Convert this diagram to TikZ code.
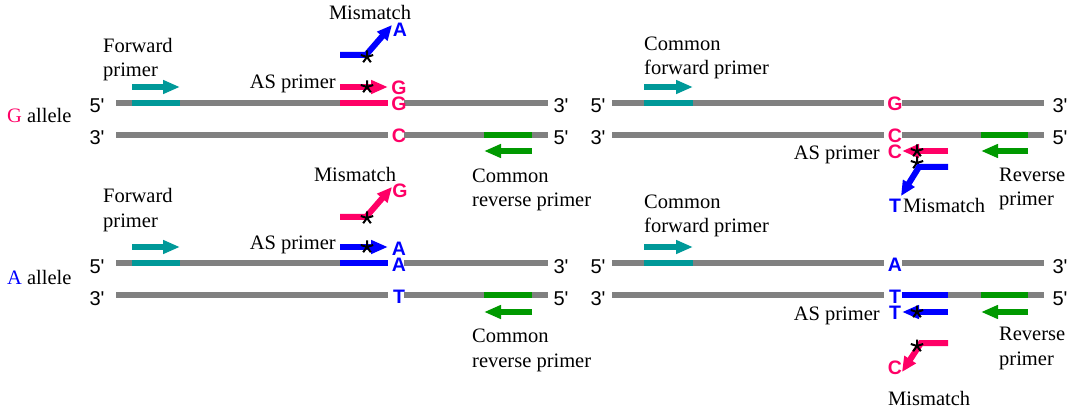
\documentclass[tikz,border=0pt]{standalone}
\usepackage{fontspec}
\setmainfont{Liberation Serif}
\setsansfont{Liberation Sans}
\usetikzlibrary{arrows.meta}
\definecolor{pinkc}{RGB}{255,0,102}
\definecolor{tealc}{RGB}{0,153,153}
\definecolor{greenc}{RGB}{0,153,0}
\definecolor{bluec}{RGB}{0,0,255}
\definecolor{grayc}{RGB}{128,128,128}
\newcommand{\fp}{5\textquotesingle}
\newcommand{\tp}{3\textquotesingle}
\tikzset{
  strand/.style={draw=grayc, line width=5.5pt},
  bar/.style={line width=6pt},
  parrow/.style={line width=6pt, -{Triangle[length=17pt,width=13pt]}},
  mmarrow/.style={line width=6pt, line join=miter, -{Triangle[length=15pt,width=13pt]}},
  lbl/.style={inner sep=0pt, font=\fontsize{20.5}{24.5}\selectfont, align=left},
  endlbl/.style={inner sep=0pt, font=\sffamily\fontsize{20}{24}\selectfont, anchor=base},
  nuc/.style={inner sep=0pt, font=\sffamily\bfseries\fontsize{19.5}{22}\selectfont, anchor=base},
  astpic/.pic={\draw[black, line width=2pt, line cap=butt]
     (0,0)--(270:6.5) (0,0)--(342:6.5) (0,0)--(54:6.5) (0,0)--(126:6.5) (0,0)--(198:6.5);}
}
\begin{document}
\begin{tikzpicture}[x=1pt,y=-1pt]
\useasboundingbox (0,0) rectangle (1072,409);

% ================= LEFT PANEL, G allele =================
\draw[strand] (116,103) -- (388,103) (404,103) -- (548,103);
\draw[strand] (116,135) -- (388,135) (404,135) -- (548,135);
\draw[bar, tealc] (132,103) -- (180,103);
\draw[bar, pinkc] (340,103) -- (388,103);
\draw[bar, greenc] (484,135) -- (532,135);
\draw[parrow, tealc] (132,87) -- (180,87);
\draw[parrow, pinkc] (340,87) -- (388,87);
\draw[parrow, greenc] (532,151) -- (484,151);
\draw[mmarrow, bluec] (340,55) -- (366,55) -- (392,25);
\pic at (367,57) {astpic};
\pic at (367,87) {astpic};

\node[lbl, anchor=base west] (galle) at (7,123) {{\color{pinkc}G} allele};
\node[lbl, anchor=base west] (fwdA) at (103,77) {Forward\\primer};
\node[lbl, anchor=base] (mmA) at (370,20) {Mismatch};
\node[lbl, anchor=base east] (asA) at (336,89) {AS primer};
\node[lbl, anchor=base west] (revA) at (472,207) {Common\\reverse primer};
\node[nuc, bluec] (nA1) at (400,37) {A};
\node[nuc, pinkc] (nA2) at (399,95) {G};
\node[nuc, pinkc] (nA3) at (399,111) {G};
\node[nuc, pinkc] (nA4) at (399,143) {C};
\node[endlbl] (eA1) at (97,113) {\fp};
\node[endlbl] (eA2) at (97,145) {\tp};
\node[endlbl] (eA3) at (561,113) {\tp};
\node[endlbl] (eA4) at (561,145) {\fp};

% ================= LEFT PANEL, A allele =================
\draw[strand] (116,263) -- (388,263) (404,263) -- (548,263);
\draw[strand] (116,295) -- (388,295) (404,295) -- (548,295);
\draw[bar, tealc] (132,263) -- (180,263);
\draw[bar, bluec] (340,263) -- (388,263);
\draw[bar, greenc] (484,295) -- (532,295);
\draw[parrow, tealc] (132,247) -- (180,247);
\draw[parrow, bluec] (340,247) -- (388,247);
\draw[parrow, greenc] (532,312) -- (484,312);
\draw[mmarrow, pinkc] (340,217) -- (366,217) -- (392,187);
\pic at (367,218) {astpic};
\pic at (367,247) {astpic};

\node[lbl, anchor=base west] (aalle) at (7,284) {{\color{bluec}A} allele};
\node[lbl, anchor=base west] (fwdB) at (103,227) {Forward\\primer};
\node[lbl, anchor=base] (mmB) at (355,182) {Mismatch};
\node[lbl, anchor=base east] (asB) at (336,250) {AS primer};
\node[lbl, anchor=base west] (revB) at (472,367) {Common\\reverse primer};
\node[nuc, pinkc] (nB1) at (400,198) {G};
\node[nuc, bluec] (nB2) at (399,255) {A};
\node[nuc, bluec] (nB3) at (399,271) {A};
\node[nuc, bluec] (nB4) at (399,303) {T};
\node[endlbl] (eB1) at (97,273) {\fp};
\node[endlbl] (eB2) at (97,305) {\tp};
\node[endlbl] (eB3) at (561,273) {\tp};
\node[endlbl] (eB4) at (561,305) {\fp};

% ================= RIGHT PANEL, G allele =================
\draw[strand] (612,103) -- (884,103) (902,103) -- (1044,103);
\draw[strand] (612,135) -- (884,135) (902,135) -- (1044,135);
\draw[bar, tealc] (644,103) -- (693,103);
\draw[bar, greenc] (981,135) -- (1028,135);
\draw[parrow, tealc] (644,87) -- (693,87);
\draw[parrow, pinkc] (948,151) -- (902,151);
\draw[parrow, greenc] (1028,151) -- (981,151);
\pic at (917,163) {astpic};
\draw[mmarrow, bluec] (948,167) -- (919,167) -- (901,196);
\pic at (917,151) {astpic};

\node[lbl, anchor=base west] (fwdC) at (644,75) {Common\\forward primer};
\node[lbl, anchor=base east] (asC) at (880,160) {AS primer};
\node[lbl, anchor=base west] (mmC) at (903,213) {Mismatch};
\node[lbl, anchor=base west] (revC) at (999,206) {Reverse\\primer};
\node[nuc, pinkc] (nC1) at (895,111) {G};
\node[nuc, pinkc] (nC2) at (895,143) {C};
\node[nuc, pinkc] (nC3) at (895,159) {C};
\node[nuc, bluec] (nC4) at (895,213) {T};
\node[endlbl] (eC1) at (598,113) {\fp};
\node[endlbl] (eC2) at (598,145) {\tp};
\node[endlbl] (eC3) at (1060,113) {\tp};
\node[endlbl] (eC4) at (1060,145) {\fp};

% ================= RIGHT PANEL, A allele =================
\draw[strand] (612,263) -- (884,263) (902,263) -- (1044,263);
\draw[strand] (612,295) -- (884,295) (902,295) -- (1044,295);
\draw[bar, tealc] (644,263) -- (693,263);
\draw[bar, bluec] (902,295) -- (948,295);
\draw[bar, greenc] (981,295) -- (1028,295);
\draw[parrow, tealc] (644,247) -- (693,247);
\draw[parrow, bluec] (948,312) -- (902,312);
\draw[parrow, greenc] (1028,312) -- (981,312);
\draw[mmarrow, pinkc] (948,343) -- (921,343) -- (902,372);
\pic at (917,312) {astpic};
\pic at (917,346) {astpic};

\node[lbl, anchor=base west] (fwdD) at (644,233) {Common\\forward primer};
\node[lbl, anchor=base east] (asD) at (880,320) {AS primer};
\node[lbl, anchor=base west] (mmD) at (888,405) {Mismatch};
\node[lbl, anchor=base west] (revD) at (999,365) {Reverse\\primer};
\node[nuc, bluec] (nD1) at (895,271) {A};
\node[nuc, bluec] (nD2) at (895,303) {T};
\node[nuc, bluec] (nD3) at (895,319) {T};
\node[nuc, pinkc] (nD4) at (895,374) {C};
\node[endlbl] (eD1) at (598,273) {\fp};
\node[endlbl] (eD2) at (598,305) {\tp};
\node[endlbl] (eD3) at (1060,273) {\tp};
\node[endlbl] (eD4) at (1060,305) {\fp};
\end{tikzpicture}
\end{document}
